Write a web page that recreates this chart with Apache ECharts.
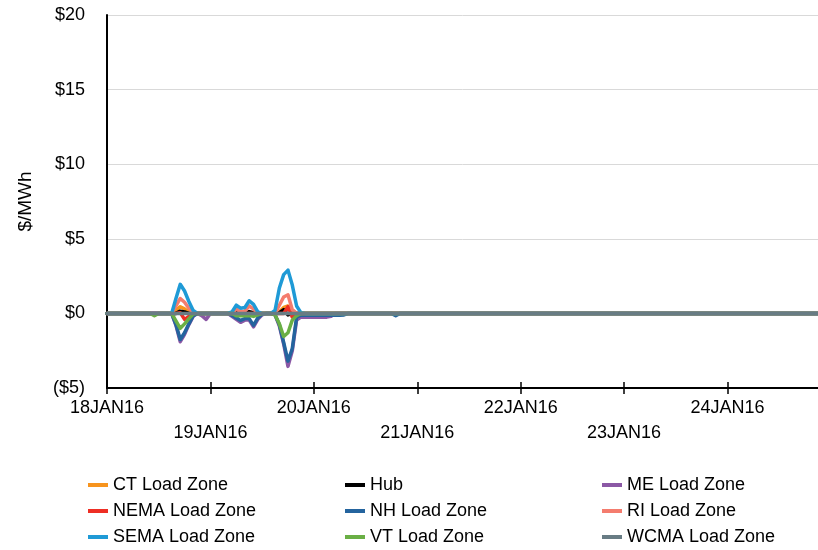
<!DOCTYPE html>
<html>
<head>
<meta charset="utf-8">
<script src="https://cdn.jsdelivr.net/npm/echarts@6/dist/echarts.min.js"></script>
<style>
html,body{margin:0;padding:0;background:#fff;}
#chart{width:818px;height:550px;}
</style>
</head>
<body>
<div id="chart"></div>
<script>
// Hours since 18JAN16 00:00
var hours = [0,
  10,11,12,13,14,15,16,17,18,19,
  20,21,22,23,24,25,26,27,28,29,
  30,31,32,33,34,35,36,37,38,39,
  40,41,42,43,44,45,46,47,48,49,
  50,51,52,53,54,55,56,
  66,67,68,165];

var dayLabels = ['18JAN16','19JAN16','20JAN16','21JAN16','22JAN16','23JAN16','24JAN16'];
var dayTicks = [0,24,48,72,96,120,144];

var ctVals = [0,
  0,0,0,0,0,0,0.2,0.45,0.3,0.1,
  0,0,0,0,0,0,0,0,0,0,
  0,0,0,0,0,0,0,0,0,0,
  0.1,0.4,0.5,0.2,0,0,0,0,0,0,
  0,0,0,0,0,0,0,
  0,0,0,0];
var hubVals = [0,
  0,0,0,0,0,0,0,0.15,0.1,0,
  0,0,0,0,0,0,0,0,0,0,
  0.05,0,0,0.12,0.05,0,0,0,0,0,
  0.05,0.25,-0.1,0,0,0,0,0,0,0,
  0,0,0,0,0,0,0,
  0,0,0,0];
var meVals = [0,
  0,0,0,0,0,0,-0.8,-1.9,-1.4,-0.75,
  -0.2,0,-0.15,-0.4,0,0,0,0,0,-0.2,
  -0.4,-0.6,-0.45,-0.45,-0.9,-0.4,-0.1,0,0,-0.1,
  -0.85,-2.05,-3.55,-2.5,-0.45,-0.25,-0.25,-0.25,-0.25,-0.25,
  -0.25,-0.25,-0.2,0,0,0,0,
  0,0,0,0];
var nemaVals = [0,
  0,0,0,0,0,0,0,0.05,-0.4,-0.2,
  0,0,0,0,0,0,0,0,0,0,
  0,0,0,0,0,0,0,0,0,0,
  0,0,0.45,-0.25,0,0,0,0,0,0,
  0,0,0,0,0,0,0,
  0,0,0,0];
var nhVals = [0,
  0,0,0,0,0,0,-0.75,-1.75,-1.3,-0.7,
  -0.15,0,0,0,0,0,0,0,0,-0.13,
  -0.3,-0.47,-0.35,-0.35,-0.8,-0.3,-0.05,0,0,-0.1,
  -0.75,-1.95,-3.2,-2.35,-0.25,-0.12,-0.12,-0.12,-0.12,-0.12,
  -0.12,-0.12,-0.12,-0.12,-0.12,-0.1,0,
  0,-0.15,0,0];
var riVals = [0,
  0,0,0,0,0,0,0.5,1.0,0.75,0.35,
  0.05,0,0,0,0,0,0,0,0,0,
  0.3,0.1,0.15,0.5,0.3,0,0,0,0,0,
  0.55,1.1,1.25,0.25,0,0,0,0,0,0,
  0,0,0,0,0,0,0,
  0,0,0,0];
var semaVals = [0,
  0,0,0,0,0,0,1.0,1.95,1.5,0.8,
  0.2,0,0,0,0,0,0,0,0,0.1,
  0.55,0.35,0.4,0.85,0.6,0.1,0,0,0,0.2,
  1.7,2.6,2.9,1.9,0.5,0.05,0,0,0,0,
  0,0,0,0,0,0,0,
  0,0,0,0];
var vtVals = [0,
  0,-0.15,0,0,0,0,-0.5,-1.0,-0.7,-0.35,
  -0.05,0,0,0,0,0,0,0,0,0,
  -0.15,-0.15,-0.15,-0.15,-0.2,-0.1,0,0,0,-0.1,
  -0.7,-1.55,-1.3,-0.45,-0.15,0,0,0,0,0,
  0,0,0,0,0,0,0,
  0,0,0,0];
var wcmaVals = [0,
  0,0,0,0,0,0,0,0,0,0,
  0,0,0,0,0,0,0,0,0,0,
  0,0,0,0,0,0,0,0,0,0,
  0,0,0,0,0,0,0,0,0,0,
  0,0,0,0,0,0,0,
  0,0,0,0];

var seriesNames = ['CT Load Zone','Hub','ME Load Zone','NEMA Load Zone','NH Load Zone','RI Load Zone','SEMA Load Zone','VT Load Zone','WCMA Load Zone'];
var seriesValues = [ctVals,hubVals,meVals,nemaVals,nhVals,riVals,semaVals,vtVals,wcmaVals];
var seriesColors = ['#F7941E','#000000','#8B58A5','#EE2E24','#24649E','#F47C6E','#1F9AD6','#6AAF45','#687C84'];

var FONT = '"Liberation Sans", Arial, sans-serif';

function pairs(vals){
  return hours.map(function(h,i){ return [h, vals[i]]; });
}

var series = seriesNames.map(function(n, i){
  return {
    name: n, type: 'line', data: pairs(seriesValues[i]),
    showSymbol: false, symbol: 'none',
    lineStyle: {width: 3.5, color: seriesColors[i], join: 'round', cap: 'round'},
    itemStyle: {color: seriesColors[i]},
    emphasis: {disabled: true},
    animation: false
  };
});

function legendAt(left, names){
  return {
    left: left, top: 472, height: 100, padding: 0, orient: 'vertical', itemGap: 0,
    icon: 'rect', itemWidth: 20, itemHeight: 4,
    textStyle: {fontFamily: FONT, fontSize: 18, color: '#000', lineHeight: 26},
    data: names, selectedMode: false
  };
}

var chart = echarts.init(document.getElementById('chart'), null, {renderer: 'canvas'});
chart.setOption({
  animation: false,
  backgroundColor: '#fff',
  grid: {left: 107, right: 0, top: 15, bottom: 162, containLabel: false},
  legend: [
    legendAt(88, ['CT Load Zone','NEMA Load Zone','SEMA Load Zone']),
    legendAt(345, ['Hub','NH Load Zone','VT Load Zone']),
    legendAt(602, ['ME Load Zone','RI Load Zone','WCMA Load Zone'])
  ],
  xAxis: [{
    type: 'value', min: 0, max: 165, interval: 24,
    axisLine: {show: true, onZero: false, lineStyle: {color: '#000', width: 2}},
    axisTick: {show: true, length: 6, customValues: dayTicks, lineStyle: {color: '#000', width: 1.5}},
    axisLabel: {
      customValues: dayTicks,
      fontFamily: FONT, fontSize: 18, color: '#000', margin: 8, lineHeight: 25,
      formatter: function(v){
        var idx = Math.round(v/24);
        var lab = dayLabels[idx] || '';
        return idx % 2 === 1 ? '\n' + lab : lab;
      }
    },
    splitLine: {show: false}
  },{
    type: 'value', min: 0, max: 165, interval: 24, position: 'bottom',
    axisLine: {show: false, onZero: false},
    axisTick: {show: true, inside: true, length: 6, customValues: dayTicks, lineStyle: {color: '#000', width: 1.5}},
    axisLabel: {show: false},
    splitLine: {show: false}
  }],
  yAxis: {
    type: 'value', min: -5, max: 20, interval: 5,
    name: '$/MWh', nameLocation: 'middle', nameGap: 72, nameRotate: 90,
    nameTextStyle: {fontFamily: FONT, fontSize: 19, color: '#000'},
    axisLine: {show: true, lineStyle: {color: '#000', width: 2}},
    axisTick: {show: false},
    axisLabel: {
      fontFamily: FONT, fontSize: 18, color: '#000', margin: 22,
      formatter: function(v){ return v < 0 ? '($' + (-v) + ')' : '$' + v; }
    },
    splitLine: {show: true, lineStyle: {color: '#D9D9D9', width: 1}}
  },
  series: series
});
</script>
</body>
</html>
